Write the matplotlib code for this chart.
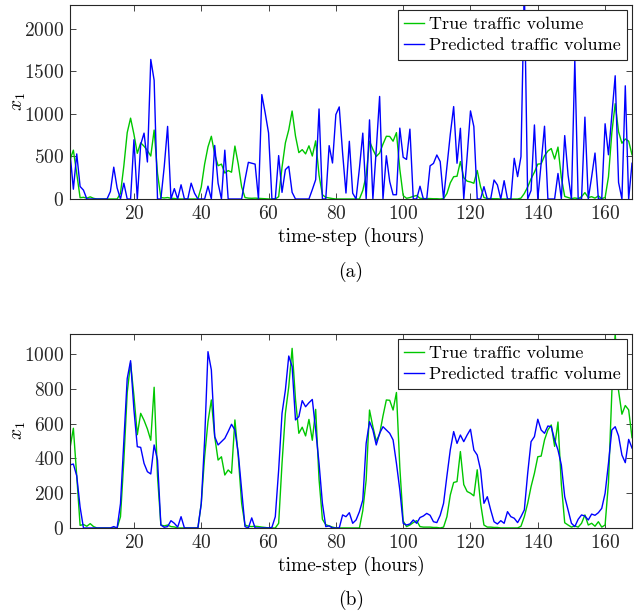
import numpy as np
import matplotlib
matplotlib.use("Agg")
import matplotlib.pyplot as plt

plt.rcParams["font.family"] = "serif"
plt.rcParams["font.serif"] = ["cmr10", "DejaVu Serif"]
plt.rcParams["mathtext.fontset"] = "cm"
plt.rcParams["axes.formatter.use_mathtext"] = True

# hours 1..168
hours = np.arange(1, 169)

true_volume = [
    460, 574, 300, 15, 20, 10, 25, 8, 0, 0, 0, 0, 0, 0, 0, 65, 390, 780, 950, 760,
    537, 660, 620, 570, 505, 810, 300, 17, 12, 17, 8, 6, 0, 0, 0, 0, 0, 0, 0, 140,
    410, 612, 737, 526, 391, 410, 305, 334, 315, 622, 410, 142, 17, 10, 8, 10, 8, 5, 3, 0,
    0, 0, 27, 372, 660, 813, 1034, 740, 545, 580, 530, 625, 505, 683, 280, 50, 19, 12, 5, 0,
    0, 0, 0, 0, 0, 0, 0, 100, 276, 679, 583, 500, 540, 645, 737, 735, 679, 780, 350, 40,
    8, 17, 31, 42, 8, 5, 5, 5, 3, 3, 0, 5, 65, 190, 262, 267, 440, 250, 210, 200,
    185, 335, 142, 17, 5, 5, 3, 3, 0, 0, 0, 0, 0, 0, 10, 65, 142, 238, 315, 410,
    414, 507, 564, 593, 470, 610, 250, 30, 17, 5, 12, 5, 27, 75, 17, 27, 10, 36, 5, 17,
    260, 780, 1120, 790, 655, 705, 680, 520,
]

# (a) predictions
pred_a = [
    545, 115, 530, 147, 104, 0, 0, 0, 0, 0, 0, 0, 88, 374, 130, 0, 186, 0, 0, 696,
    0, 640, 774, 435, 1640, 1395, 0, 0, 380, 853, 0, 122, 0, 167, 0, 0, 186, 68, 0, 0,
    0, 151, 0, 629, 186, 0, 574, 0, 0, 0, 0, 0, 227, 431, 421, 410, 0, 1227, 1011, 776,
    0, 0, 510, 78, 345, 384, 78, 0, 0, 0, 0, 0, 110, 227, 1058, 0, 0, 627, 423, 992,
    1082, 541, 70, 678, 68, 0, 360, 774, 0, 930, 0, 580, 1205, 0, 508, 205, 50, 50, 833, 490,
    465, 821, 0, 0, 150, 0, 0, 390, 418, 517, 440, 0, 380, 760, 1086, 420, 831, 0, 500, 1035,
    851, 0, 0, 145, 0, 0, 223, 165, 0, 215, 0, 0, 478, 263, 498, 2500, 0, 100, 870, 0,
    420, 855, 0, 0, 0, 300, 0, 745, 280, 0, 1637, 0, 0, 962, 0, 260, 540, 0, 0, 884,
    520, 980, 1448, 195, 0, 1330, 0, 420,
]

# (b) predictions
pred_b = [
    363, 368, 300, 120, 0, 0, 0, 0, 0, 0, 0, 0, 0, 8, 0, 140, 505, 860, 963, 680,
    468, 464, 372, 324, 311, 478, 391, 17, 4, 8, 42, 27, 5, 65, 0, 0, 0, 0, 0, 140,
    506, 1015, 910, 526, 478, 497, 516, 555, 597, 564, 430, 219, 8, 0, 58, 0, 0, 0, 0, 0,
    4, 65, 334, 660, 794, 990, 929, 622, 641, 733, 698, 721, 740, 564, 372, 142, 8, 12, 0, 0,
    0, 75, 65, 88, 27, 46, 94, 161, 487, 612, 564, 478, 545, 583, 564, 545, 507, 372, 219, 27,
    17, 23, 46, 27, 60, 69, 84, 73, 36, 31, 73, 142, 300, 450, 555, 487, 535, 497, 535, 568,
    449, 420, 334, 142, 180, 104, 36, 23, 42, 27, 94, 65, 56, 31, 65, 104, 315, 497, 526, 626,
    564, 545, 587, 583, 507, 449, 363, 180, 104, 27, 8, 50, 75, 69, 46, 80, 73, 88, 113, 200,
    372, 564, 583, 530, 420, 376, 510, 460,
]

x_ticks = [20, 40, 60, 80, 100, 120, 140, 160]
green = (0.0, 0.78, 0.0)
blue = (0.0, 0.0, 1.0)
fs = 14

fig = plt.figure(figsize=(6.44, 6.14), dpi=100)


def panel(rect, pred, ymax, yticks, tag, tag_y):
    ax = fig.add_axes(rect)
    ax.plot(hours, true_volume, color=green, lw=1.0, label="True traffic volume")
    ax.plot(hours, pred, color=blue, lw=1.0, label="Predicted traffic volume")
    ax.set_xlim(1, 168)
    ax.set_ylim(0, ymax)
    ax.set_xticks(x_ticks)
    ax.set_yticks(yticks)
    ax.tick_params(direction="in", top=True, right=True, length=4,
                   labelsize=fs, colors="0.15", width=0.6, pad=4)
    for s in ax.spines.values():
        s.set_color("0.15")
        s.set_linewidth(0.8)
    ax.set_xlabel("time-step (hours)", fontsize=fs, labelpad=3)
    ax.set_ylabel(r"$x_1$", fontsize=fs, labelpad=-3)
    leg = ax.legend(loc="upper right", fontsize=13, fancybox=False,
                    borderaxespad=0.3, handlelength=1.1, handletextpad=0.25,
                    borderpad=0.35, labelspacing=0.3, framealpha=1)
    leg.get_frame().set_edgecolor("0.15")
    leg.get_frame().set_linewidth(0.8)
    fig.text(rect[0] + rect[2] / 2, tag_y, tag, ha="center", va="center", fontsize=fs)
    return ax


panel([0.1087, 0.6759, 0.8727, 0.316], pred_a, 2280, [0, 500, 1000, 1500, 2000], "(a)", 1 - 272 / 614)
panel([0.1087, 0.1401, 0.8727, 0.316], pred_b, 1117, [0, 200, 400, 600, 800, 1000], "(b)", 1 - 600 / 614)

fig.savefig("out.png", dpi=100)
